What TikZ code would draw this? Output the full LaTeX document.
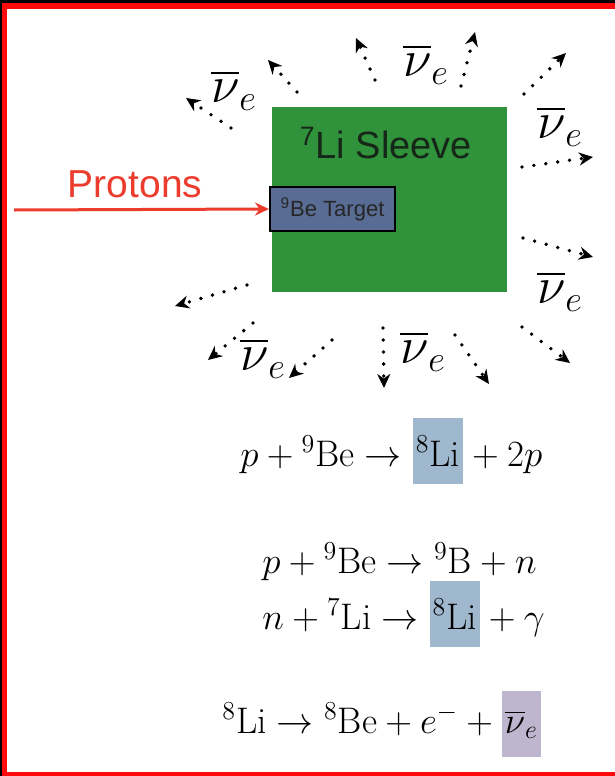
\RequirePackage{fix-cm}
\documentclass[tikz,border=0pt]{standalone}
\usepackage{amsmath}
\usepackage{fontspec}
\usetikzlibrary{arrows.meta,positioning}
\newfontfamily\labelfont{Liberation Sans}
\definecolor{framered}{RGB}{255,10,10}
\definecolor{sleeve}{RGB}{48,146,58}
\definecolor{sleevetext}{RGB}{22,38,24}
\definecolor{target}{RGB}{88,108,148}
\definecolor{protonred}{RGB}{236,60,45}
\definecolor{libox}{RGB}{160,184,206}
\definecolor{nubox}{RGB}{190,182,206}

\begin{document}
\begin{tikzpicture}[x=0.5pt, y=-0.5pt, >=Stealth,
  nuflow/.style={line width=1.9pt, line cap=round, dash pattern=on 0pt off 6pt,
    -{Stealth[length=7pt,width=6.5pt]}},
  beam/.style={draw=protonred, line width=1.5pt, -{Stealth[length=7pt,width=6.5pt]}},
  nulabel/.style={inner sep=0pt, font=\fontsize{26}{30}\selectfont},
  eqn/.style={inner sep=0pt, font=\fontsize{18.5}{22}\selectfont},
  hilite/.style={eqn, inner xsep=1.5pt, minimum height=33pt}]
  \useasboundingbox (0,0) rectangle (615,776);

  % Frame
  \fill[black] (0,0) rectangle (615,776);
  \fill[framered] (2,3) rectangle (615,776);
  \fill[white] (7,9) rectangle (615,772);

  % Sleeve and target
  \node[fill=sleeve, minimum width=117.5pt, minimum height=92.5pt, inner sep=0pt,
    anchor=north west] (sleeve) at (272,107) {};
  \node[text=sleevetext, font=\labelfont\fontsize{19}{22}\selectfont]
    (sleevelabel) at (386,143) {\textsuperscript{7}Li Sleeve};
  \node[draw=black, line width=1pt, fill=target, text=black!85, minimum width=62.5pt,
    minimum height=22pt, inner sep=0pt, anchor=north west,
    font=\labelfont\fontsize{11}{13}\selectfont] (target) at (269,186)
    {\textsuperscript{9}Be Target};

  % Proton beam
  \coordinate (beamstart) at (14,210);
  \draw[beam] (beamstart) -- (target.west);
  \node[text=protonred, font=\labelfont\fontsize{19.5}{22}\selectfont]
    (protons) at (135,184) {Protons};

  % Neutrino arrows
  \foreach \sx/\sy/\tx/\ty [count=\i] in {231/128/186/98, 297/92/268/60,
      375/80/356/38, 461/86/475/32, 524/94/566/53, 522/167/593/157,
      523/238/593/257, 247/285/175/306, 253/323/208/360, 332/340/289/378,
      383/328/384/388, 455/335/489/384, 522/327/570/363} {
    \coordinate (nustart\i) at (\sx,\sy);
    \coordinate (nutip\i) at (\tx,\ty);
    \draw[nuflow] (nustart\i) -- (nutip\i);
  }
  \foreach \lx/\ly [count=\i] in {234/90, 426/64, 560/126, 560/291, 263/358, 423/351}
    \node[nulabel] (nu\i) at (\lx,\ly) {$\overline{\nu}_e$};

  % Reactions
  \node[eqn, anchor=base west] (r1a) at (240,466) {$p+{}^{9}\mathrm{Be}\rightarrow{}$};
  \node[hilite, fill=libox, anchor=base west] (r1b) at (r1a.base east) {${}^{8}\mathrm{Li}$};
  \node[eqn, anchor=base west] (r1c) at (r1b.base east) {${}+2p$};

  \node[eqn, anchor=base west] (r2) at (262,573)
    {$p+{}^{9}\mathrm{Be}\rightarrow{}^{9}\mathrm{B}+n$};

  \node[eqn, anchor=base west] (r3a) at (262,629) {$n+{}^{7}\mathrm{Li}\rightarrow{}$};
  \node[hilite, fill=libox, anchor=base west] (r3b) at (r3a.base east) {${}^{8}\mathrm{Li}$};
  \node[eqn, anchor=base west] (r3c) at (r3b.base east) {${}+\gamma$};

  \node[eqn, anchor=base west] (r4a) at (222,733)
    {${}^{8}\mathrm{Li}\rightarrow{}^{8}\mathrm{Be}+e^{-}+{}$};
  \node[hilite, fill=nubox, anchor=base west] (r4b) at (r4a.base east) {$\overline{\nu}_e$};
\end{tikzpicture}
\end{document}
